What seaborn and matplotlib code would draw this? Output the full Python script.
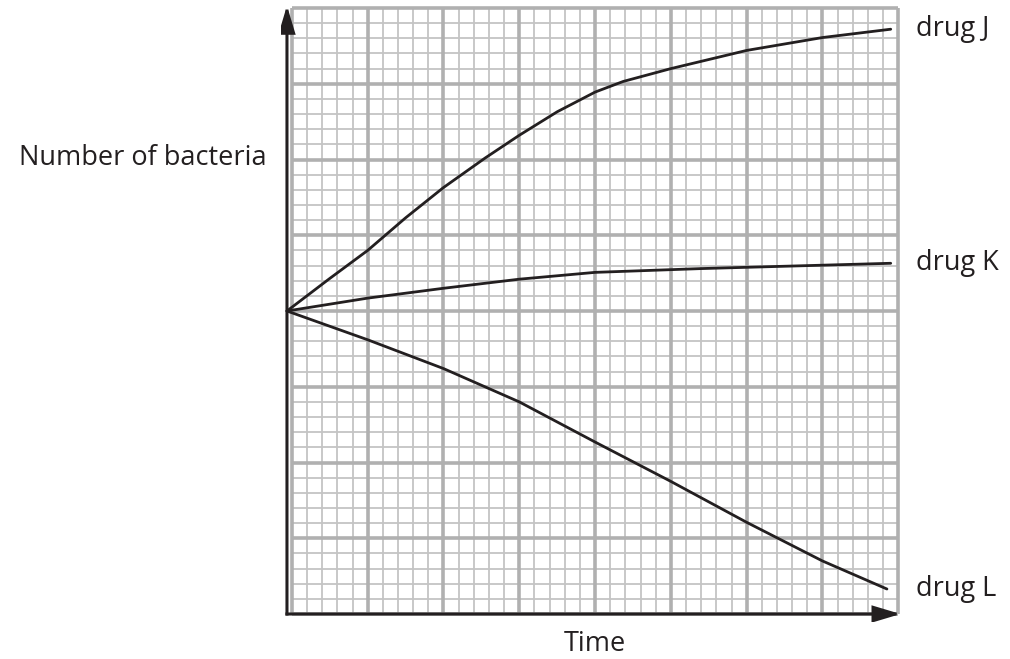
import numpy as np
import pandas as pd
import matplotlib
matplotlib.use("Agg")
import matplotlib.pyplot as plt
import seaborn as sns
from matplotlib.patches import FancyArrowPatch

sns.set_theme(style="white")
plt.rcParams['font.family'] = ['Open Sans', 'DejaVu Sans']

# ---- data (grid units: 1 unit = one major square) ----
j_x = [-0.065, 0.5, 1.0, 1.5, 2.0, 2.55, 3.0, 3.5, 4.0, 4.37, 5.0, 6.0, 7.0, 7.9]
j_y = [4.0, 4.43, 4.80, 5.23, 5.63, 6.02, 6.32, 6.63, 6.89, 7.03, 7.20, 7.44, 7.61, 7.72]
k_x = [-0.065, 1.0, 2.0, 3.0, 4.0, 5.4, 7.9]
k_y = [4.0, 4.17, 4.30, 4.42, 4.51, 4.56, 4.63]
l_x = [-0.065, 1.0, 2.0, 3.0, 4.0, 5.0, 6.0, 7.0, 7.85]
l_y = [4.0, 3.62, 3.24, 2.80, 2.27, 1.75, 1.21, 0.70, 0.33]
drug_labels = ["drug J", "drug K", "drug L"]
x_label = "Time"
y_label = "Number of bacteria"

df = pd.concat([
    pd.DataFrame({"t": j_x, "n": j_y, "drug": drug_labels[0]}),
    pd.DataFrame({"t": k_x, "n": k_y, "drug": drug_labels[1]}),
    pd.DataFrame({"t": l_x, "n": l_y, "drug": drug_labels[2]}),
])

W, H = 1010, 659
fig = plt.figure(figsize=(W / 100, H / 100), dpi=100)
# pixel mapping: x_px = 291.9 + 75.8*X ; y_px = 614 - 75.75*Y
xl = (-0.15, 8.12)
yl = (-0.1, 8.1)
x0p = 291.9 + 75.8 * xl[0]
x1p = 291.9 + 75.8 * xl[1]
y0p = 614 - 75.75 * yl[0]
y1p = 614 - 75.75 * yl[1]
ax = fig.add_axes([x0p / W, 1 - y0p / H, (x1p - x0p) / W, (y0p - y1p) / H])
ax.set_xlim(*xl)
ax.set_ylim(*yl)
ax.axis("off")

# graph-paper grid
minor = np.arange(0, 8.001, 0.2)
major = np.arange(0, 8.001, 1.0)
ax.vlines(minor, 0, 8, colors="#c4c4c4", linewidth=1.3, zorder=1)
ax.hlines(minor, 0, 8, colors="#c4c4c4", linewidth=1.3, zorder=1)
ax.vlines(major, 0, 8, colors="#b0b0b0", linewidth=2.6, zorder=2)
ax.hlines(major, 0, 8, colors="#b0b0b0", linewidth=2.6, zorder=2)

sns.lineplot(data=df, x="t", y="n", hue="drug", palette=["#231f20"] * 3,
             linewidth=2.0, legend=False, sort=False, ax=ax, zorder=5)

# axes with arrows
ax0 = -0.065
for start, end in [((ax0, 0.0), (ax0, 8.03)), ((ax0, 0.0), (8.03, 0.0))]:
    arr = FancyArrowPatch(start, end, arrowstyle="-|>,head_length=16,head_width=4.8",
                          mutation_scale=1, color="#231f20", linewidth=2.2,
                          shrinkA=0, shrinkB=0, zorder=6, joinstyle="miter",
                          capstyle="projecting")
    ax.add_patch(arr)

# labels
fs = 19.5
for lab, yy in zip(drug_labels, [j_y[-1], k_y[-1], l_y[-1]]):
    ax.text(8.24, yy, lab, fontsize=fs, color="#231f20", va="center", ha="left",
            clip_on=False)
ax.text(-0.34, 6.02, y_label, fontsize=fs, color="#231f20", va="center", ha="right",
        clip_on=False)
ax.text(4.0, -0.4, x_label, fontsize=fs, color="#231f20", va="center", ha="center",
        clip_on=False)

fig.savefig("out.png", dpi=100)
